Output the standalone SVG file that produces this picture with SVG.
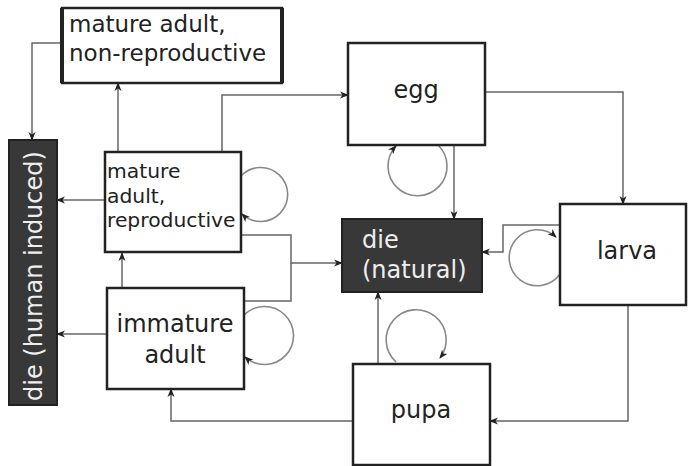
<svg xmlns="http://www.w3.org/2000/svg" width="688" height="466" viewBox="0 0 688 466">
<defs>
<marker id="ah" markerWidth="9" markerHeight="8" refX="8" refY="4" orient="auto" markerUnits="userSpaceOnUse">
<path d="M0,0.5 L9,4 L0,7.5 L2.5,4 z" fill="#222"/>
</marker>
<style>
.box{fill:#fff;stroke:#222;stroke-width:2.5}
.dark{fill:#383838;stroke:#222;stroke-width:2}
.t{font-family:"DejaVu Sans",sans-serif;fill:#222}
.w{font-family:"DejaVu Sans",sans-serif;fill:#eee}
.c{fill:none;stroke:#666;stroke-width:1.5;marker-end:url(#ah)}
.c2{fill:none;stroke:#666;stroke-width:1.5}
.loop{fill:none;stroke:#888;stroke-width:1.6;marker-end:url(#ah)}
</style>
</defs>
<rect width="688" height="466" fill="#fff"/>
<g id="connectors">
<path class="c" d="M62,43 H32 V140"/>
<path class="c" d="M118,152 V83"/>
<path class="c" d="M222,152 V95 H348"/>
<path class="c" d="M105,200 H57"/>
<path class="c" d="M241,235 H291 V263 H342"/>
<path class="c2" d="M244,301 H291 V263"/>
<path class="c" d="M107,334 H57"/>
<path class="c" d="M122,288 V253"/>
<path class="c" d="M353,421 H171 V389"/>
<path class="c" d="M378,364 V292"/>
<path class="c" d="M628,305 V421 H490"/>
<path class="c" d="M560,225 H503 V252 H482"/>
<path class="c" d="M485,92 H623 V204"/>
<path class="c" d="M454,145 V219"/>
<path class="loop" d="M241,176 A27,27 0 1 1 242,214"/>
<path class="loop" d="M244,315 A29,29 0 1 1 245,357"/>
<path class="loop" d="M438,145 A29.5,29.5 0 1 1 396,146"/>
<path class="loop" d="M396,362 A30,30 0 1 1 440,358"/>
<path class="loop" d="M560,274 A28,28 0 1 1 556,237"/>
</g>
<g id="nonrepro">
<rect class="box" x="62" y="8" width="220" height="75"/>
<path d="M62,8 V83 M282,8 V83" stroke="#222" stroke-width="4"/>
<text class="t" x="69" y="32" font-size="23">mature adult,</text>
<text class="t" x="69" y="61" font-size="23">non-reproductive</text>
</g>
<g id="repro">
<rect class="box" x="105" y="152" width="136" height="100"/>
<text class="t" x="107" y="178" font-size="20.3">mature</text>
<text class="t" x="107" y="203" font-size="20.3">adult,</text>
<text class="t" x="107" y="227" font-size="20.3">reproductive</text>
</g>
<g id="human">
<rect class="dark" x="9" y="140" width="48" height="265"/>
<text class="w" transform="translate(42,401) rotate(-90)" font-size="24">die (human induced)</text>
</g>
<g id="egg">
<rect class="box" x="348" y="43" width="137" height="102"/>
<text class="t" x="416" y="98" font-size="24" text-anchor="middle">egg</text>
</g>
<g id="natural">
<rect class="dark" x="342" y="219" width="140" height="73"/>
<text class="w" x="362" y="248" font-size="24">die</text>
<text class="w" x="362" y="278" font-size="24">(natural)</text>
</g>
<g id="larva">
<rect class="box" x="560" y="204" width="126" height="101"/>
<text class="t" x="627" y="259" font-size="24" text-anchor="middle">larva</text>
</g>
<g id="immature">
<rect class="box" x="107" y="288" width="137" height="101"/>
<text class="t" x="175" y="332" font-size="24" text-anchor="middle">immature</text>
<text class="t" x="175" y="363" font-size="24" text-anchor="middle">adult</text>
</g>
<g id="pupa">
<rect class="box" x="353" y="364" width="137" height="101"/>
<text class="t" x="421" y="418" font-size="24" text-anchor="middle">pupa</text>
</g>
</svg>
